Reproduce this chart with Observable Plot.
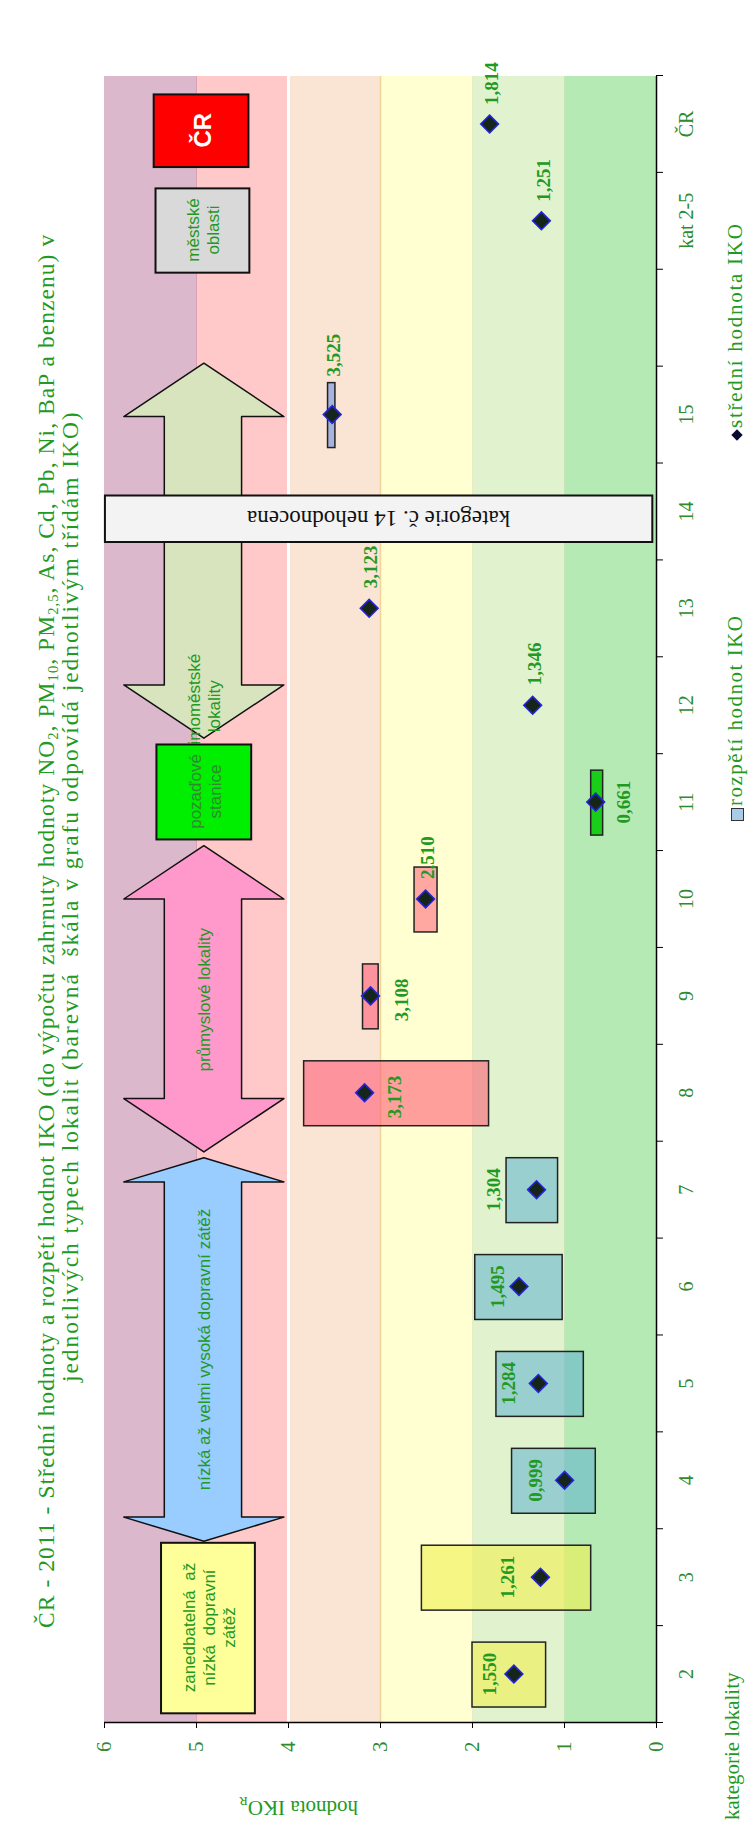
<!DOCTYPE html>
<html><head><meta charset="utf-8">
<script src="https://cdn.jsdelivr.net/npm/d3@7"></script>
<script src="https://cdn.jsdelivr.net/npm/@observablehq/plot@0.6"></script>
<style>
html,body{margin:0;padding:0;background:#fff;overflow:hidden;}
#page{position:relative;width:750px;height:1822px;overflow:hidden;background:#fff;}
#land{position:absolute;left:0;top:0;width:1822px;height:750px;transform-origin:0 0;transform:translate(0px,1822px) rotate(-90deg);}
#land svg{position:absolute;left:0;top:0;}
.t{position:absolute;white-space:nowrap;line-height:1;}
sub{font-size:0.62em;vertical-align:-0.28em;line-height:0;}
</style></head><body>
<div id="page"><div id="land"></div></div>
<script>
// ---------- data ----------
const categories = ["2","3","4","5","6","7","8","9","10","11","12","13","14","15","","kat 2-5","ČR"];
const meanValues = [1.550,1.261,0.999,1.284,1.495,1.304,3.173,3.108,2.510,0.661,1.346,3.123,null,3.525,null,1.251,1.814];
const rangeLow   = [1.20,0.71,0.66,0.79,1.02,1.07,1.82,3.02,2.38,0.58,null,null,null,3.49,null,null,null];
const rangeHigh  = [2.00,2.55,1.57,1.74,1.97,1.63,3.83,3.19,2.63,0.71,null,null,null,3.57,null,null,null];
const valueTicks = [0,1,2,3,4,5,6];
const ikoClassLow  = [0,1,2,3,4,5];
const ikoClassHigh = [1,2,3,4,5,6];

// ---------- styles / annotation layout ----------
const green = "#229922";
const classColors = ["#b6eab4","#e1f3ce","#ffffd2","#fae4d4","#ffc9c9","#dbb8cb"];
const rangeStyle = {
  "2":["#f0f050",0.6],"3":["#f0f050",0.6],
  "4":["#5fb0d0",0.55],"5":["#5fb0d0",0.55],"6":["#5fb0d0",0.55],"7":["#5fb0d0",0.55],
  "8":["#ff5070",0.55],"9":["#ff5070",0.55],"10":["#ff5070",0.5],
  "11":["#00c800",0.85],"15":["#8fa8e0",0.8]
};
// label placement: [dx, dy, anchor] in pixels
const labelPlace = {
  "2":[0,-24,"middle"],"3":[0,-33,"middle"],"4":[0,-29,"middle"],"5":[0,-29,"middle"],"6":[0,-21,"middle"],"7":[0,-43,"middle"],
  "8":[-4,30,"middle"],"9":[-4,31,"middle"],"11":[0,28,"middle"],
  "10":[20,2,"start"],"12":[20,2,"start"],"13":[20,2,"start"],"15":[38,2,"start"],"kat 2-5":[19,2,"start"],"ČR":[19,2,"start"]
};
const arrowNotes = [
  {text:"nízká až velmi vysoká dopravní zátěž", from:1.87, to:5.83, head:0.25, fill:"#99ccff", tx:3.85, anchor:"middle"},
  {text:"průmyslové lokality", from:5.89, to:9.05, head:0.55, fill:"#ff99cc", tx:7.46, anchor:"middle"},
  {text:"mimoměstské\nlokality", from:10.16, to:14.03, head:0.55, fill:"#d7e4bd", tx:10.49, anchor:"start"}
];
const shaftSpan = [4.51, 5.35], headSpan = [4.05, 5.79];
const boxNotes = [
  {text:"zanedbatelná  až\nnízká  dopravní\nzátěž", x1:0.10, x2:1.86, y1:4.36, y2:5.38, fill:"#ffff99", color:green, size:17, weight:"normal"},
  {text:"pozaďové\nstanice", x1:9.12, x2:10.10, y1:4.40, y2:5.43, fill:"#00ee00", color:"#2f8a2f", size:17, weight:"normal"},
  {text:"městské\noblasti", x1:14.97, x2:15.84, y1:4.42, y2:5.44, fill:"#d9d9d9", color:green, size:17, weight:"normal"},
  {text:"ČR", x1:16.06, x2:16.81, y1:4.43, y2:5.46, fill:"#ff0000", color:"#ffffff", size:24, weight:"bold"}
];
const notRatedBox = {text:"kategorie č. 14 nehodnocena", x1:12.19, x2:12.67, y1:0.04, y2:5.99};

// ---------- derived ----------
const n = categories.length;
const idx = d3.range(n);
const rows = idx.map(i => ({i, cat:categories[i], mean:meanValues[i], lo:rangeLow[i], hi:rangeHigh[i]}));
const ranges = rows.filter(d => d.lo != null);
const pts = rows.filter(d => d.mean != null);
const fmt = v => d3.format(".3f")(v).replace(".", ",");
const bands = ikoClassLow.map((lo,k) => ({lo, hi:ikoClassHigh[k], color:classColors[k]}));
const mid = (headSpan[0]+headSpan[1])/2;
function arrowPoly(a){
  const h=a.head;
  return [[a.from,mid],[a.from+h,headSpan[1]],[a.from+h,shaftSpan[1]],[a.to-h,shaftSpan[1]],[a.to-h,headSpan[1]],
    [a.to,mid],[a.to-h,headSpan[0]],[a.to-h,shaftSpan[0]],[a.from+h,shaftSpan[0]],[a.from+h,headSpan[0]],[a.from,mid]]
    .map(([x,y])=>({x,y}));
}
const labelFont = {fontFamily:"Liberation Serif", fontSize:19, fontWeight:"bold", fill:green};
const sans = "Liberation Sans";
const labelMarks = pts.map(d => {
  const [dx, dy, anchor] = labelPlace[d.cat];
  return Plot.text([d], {x:e=>e.i+0.5, y:"mean", text:e=>fmt(e.mean), dx, dy, textAnchor:anchor, lineAnchor:"middle", ...labelFont});
});

const plot = Plot.plot({
  width:1822, height:750,
  marginLeft:99, marginRight:76, marginTop:104, marginBottom:94,
  x:{type:"linear", domain:[0,n]},
  y:{type:"linear", domain:[0,6]},
  style:{fontFamily:"Liberation Serif", background:"transparent", overflow:"visible"},
  marks:[
    Plot.rect(bands, {x1:()=>0, x2:()=>n, y1:"lo", y2:"hi", fill:"color"}),
    Plot.ruleY([1], {stroke:"#c9e4b8", strokeWidth:1}),
    Plot.ruleY([2], {stroke:"#e6ecc4", strokeWidth:1}),
    Plot.ruleY([3], {stroke:"#f2d49a", strokeWidth:1.5}),
    Plot.ruleY([4], {stroke:"#ffffff", strokeWidth:3}),
    Plot.ruleY([5], {stroke:"#dba0b4", strokeWidth:1}),
    Plot.rect(ranges, {x1:d=>d.i+0.5-0.335, x2:d=>d.i+0.5+0.335, y1:"lo", y2:"hi",
      fill:d=>rangeStyle[d.cat][0], fillOpacity:d=>rangeStyle[d.cat][1], stroke:"#222", strokeWidth:1.5}),
    ...arrowNotes.map(a => Plot.line(arrowPoly(a), {x:"x", y:"y", fill:a.fill, stroke:"#111", strokeWidth:1.5, curve:"linear"})),
    Plot.text(arrowNotes, {x:"tx", y:()=>4.92, text:"text", textAnchor:d=>d.anchor, fill:green, fontFamily:sans, fontSize:17, lineHeight:1.18, lineAnchor:"middle"}),
    Plot.rect(boxNotes, {x1:"x1", x2:"x2", y1:"y1", y2:"y2", fill:"fill", stroke:"#111", strokeWidth:2}),
    ...boxNotes.map(b => Plot.text([b], {x:d=>(d.x1+d.x2)/2, y:d=>(d.y1+d.y2)/2, text:"text", fill:b.color, fontFamily:sans, fontSize:b.size, fontWeight:b.weight, lineHeight:1.18, lineAnchor:"middle"})),
    Plot.rect([notRatedBox], {x1:"x1", x2:"x2", y1:"y1", y2:"y2", fill:"#f3f3f3", stroke:"#111", strokeWidth:2}),
    Plot.text([notRatedBox], {x:d=>(d.x1+d.x2)/2, y:()=>3.02, text:"text", rotate:-90, fill:"#111", fontFamily:"Liberation Serif", fontSize:23, lineAnchor:"middle"}),
    Plot.dot(pts, {x:d=>d.i+0.5, y:"mean", symbol:"diamond2", r:8, fill:"#15251a", stroke:"#2424e0", strokeWidth:1.6}),
    ...labelMarks,
    Plot.axisY({ticks:valueTicks, tickSize:5, tickPadding:14, stroke:"#000", fill:"#2e8b2e", fontSize:21, fontFamily:"Liberation Serif", tickFormat:d=>String(d), label:null}),
    Plot.axisX({ticks:d3.range(n+1), tickSize:7, stroke:"#000", fill:"none", label:null}),
    Plot.axisX({ticks:idx.map(i=>i+0.5), tickSize:0, tickPadding:22, fill:"#2e8b2e", fontSize:20, fontFamily:"Liberation Serif", tickFormat:v=>categories[Math.floor(v)], label:null}),
    Plot.ruleY([0], {stroke:"#000", strokeWidth:1.5}),
    Plot.ruleX([0], {stroke:"#000", strokeWidth:1.5})
  ]
});
const land = document.getElementById("land");
land.appendChild(plot);

// ---------- text around the chart ----------
function addText(html, o){
  const el = document.createElement("div");
  el.className = "t"; el.innerHTML = html;
  el.style.fontSize = o.size+"px";
  el.style.fontFamily = o.family || "Liberation Serif";
  el.style.color = o.color || green;
  el.style.fontWeight = o.weight || "normal";
  land.appendChild(el);
  if (o.width){
    const w0 = el.offsetWidth, k = el.textContent.length;
    el.style.letterSpacing = ((o.width - w0)/k) + "px";
  }
  const w = el.offsetWidth, h = el.offsetHeight;
  const left = o.left != null ? o.left : o.cx - w/2;
  el.style.left = left + "px";
  el.style.top = (o.cy - h*(o.rotate ? 0.5 : 0.55)) + "px";
  if (o.rotate){ el.style.transformOrigin = "50% 50%"; el.style.transform = "rotate("+o.rotate+"deg)"; }
  return el;
}
addText("ČR - 2011 - Střední hodnoty a rozpětí hodnot IKO (do výpočtu zahrnuty hodnoty NO<sub>2</sub>, PM<sub>10</sub>, PM<sub>2,5</sub>, As, Cd, Pb, Ni, BaP a benzenu) v",
  {size:23.5, cx:891, cy:48, width:1394});
addText("jednotlivých typech lokalit (barevná&nbsp; škála v grafu odpovídá jednotlivým třídám IKO)",
  {size:23.5, cx:926, cy:72, width:972});
addText("hodnota IKO<sub>R</sub>", {size:21, cx:14, cy:298, rotate:-90});
addText("kategorie lokality", {size:21, left:2, cy:734, width:148});
// legend
const sq = document.createElement("div");
Object.assign(sq.style, {position:"absolute", left:"1001px", top:"731px", width:"11px", height:"11px", background:"#a8cbe8", border:"1px solid #333"});
land.appendChild(sq);
addText("rozpětí hodnot IKO", {size:21, left:1016, cy:737, width:191});
const dm = document.createElement("div");
Object.assign(dm.style, {position:"absolute", left:"1383px", top:"733px", width:"8px", height:"8px", background:"#0a0a30", transform:"rotate(45deg)"});
land.appendChild(dm);
addText("střední hodnota IKO", {size:21, left:1394, cy:737, width:206});
</script>
</body></html>
